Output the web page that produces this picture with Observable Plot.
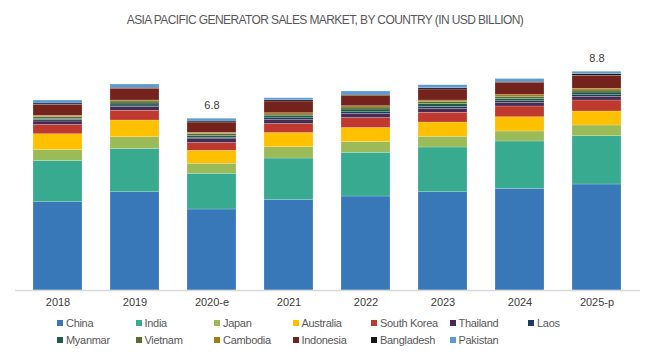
<!DOCTYPE html>
<html>
<head>
<meta charset="utf-8">
<script src="https://cdn.jsdelivr.net/npm/d3@7"></script>
<script src="https://cdn.jsdelivr.net/npm/@observablehq/plot@0.6"></script>
<style>
  html, body { margin: 0; padding: 0; background: #fff; }
  body { width: 650px; height: 357px; overflow: hidden; font-family: "Liberation Sans", Arial, sans-serif; }
  #title { height: 40px; line-height: 40px; text-align: center; font-size: 12px; color: #595959; letter-spacing: -0.6px; }
  #legend { display: grid; grid-template-columns: repeat(7, 78.5px); grid-auto-rows: 17px; padding-left: 57px; margin-top: 2px; font-size: 11px; color: #595959; letter-spacing: -0.3px; }
  #legend .item { display: flex; align-items: center; white-space: nowrap; }
  #legend .sw { width: 6px; height: 6px; margin-right: 3px; flex: none; }
</style>
</head>
<body>
<div id="title">ASIA PACIFIC GENERATOR SALES MARKET, BY COUNTRY (IN USD BILLION)</div>
<div id="chart"></div>
<div id="legend"></div>
<script>
const years = ["2018", "2019", "2020-e", "2021", "2022", "2023", "2024", "2025-p"];
const countries = ["China", "India", "Japan", "Australia", "South Korea", "Thailand", "Laos",
  "Myanmar", "Vietnam", "Cambodia", "Indonesia", "Bangladesh", "Pakistan"];
const colors = ["#3878b8", "#38aa90", "#9bbb59", "#ffc000", "#c0392f", "#4a2a52", "#1f3a5c",
  "#1e5c44", "#5c6c2c", "#a57a12", "#74221c", "#161616", "#5b9bd5"];

const china      = [3.53, 3.93, 3.24, 3.63, 3.76, 3.93, 4.07, 4.24];
const india      = [1.65, 1.73, 1.43, 1.65, 1.75, 1.79, 1.89, 1.93];
const japan      = [0.44, 0.47, 0.40, 0.45, 0.43, 0.43, 0.40, 0.43];
const australia  = [0.63, 0.67, 0.52, 0.57, 0.56, 0.57, 0.57, 0.56];
const southKorea = [0.37, 0.39, 0.31, 0.36, 0.40, 0.39, 0.43, 0.44];
const thailand   = [0.14, 0.15, 0.15, 0.16, 0.16, 0.16, 0.15, 0.15];
const laos       = [0.06, 0.06, 0.06, 0.07, 0.07, 0.07, 0.06, 0.06];
const myanmar    = [0.05, 0.08, 0.08, 0.08, 0.11, 0.12, 0.09, 0.11];
const vietnam    = [0.07, 0.08, 0.07, 0.07, 0.08, 0.09, 0.09, 0.08];
const cambodia   = [0.05, 0.04, 0.05, 0.05, 0.05, 0.05, 0.07, 0.07];
const indonesia  = [0.44, 0.47, 0.41, 0.47, 0.41, 0.44, 0.48, 0.52];
const bangladesh = [0.05, 0.04, 0.04, 0.05, 0.05, 0.05, 0.05, 0.07];
const pakistan   = [0.12, 0.13, 0.11, 0.08, 0.13, 0.12, 0.11, 0.09];

const series = [china, india, japan, australia, southKorea, thailand, laos,
  myanmar, vietnam, cambodia, indonesia, bangladesh, pakistan];

const totalLabels = [
  {year: "2020-e", label: "6.8"},
  {year: "2025-p", label: "8.8"}
];

const data = [];
years.forEach((y, i) => {
  countries.forEach((c, j) => data.push({year: y, country: c, value: series[j][i]}));
});
const totals = totalLabels.map(d => ({
  ...d,
  total: d3.sum(series, s => s[years.indexOf(d.year)])
}));

const chart = Plot.plot({
  width: 650,
  height: 272,
  marginTop: 10,
  marginBottom: 22,
  marginLeft: 15,
  marginRight: 10,
  style: {fontFamily: '"Liberation Sans", Arial, sans-serif', fontSize: "11px", color: "#404040"},
  x: {domain: years, paddingInner: 0.36, paddingOuter: 0.193, label: null, tickSize: 0, tickPadding: 8},
  y: {domain: [0, 9.6], axis: null},
  color: {domain: countries, range: colors},
  marks: [
    Plot.barY(data, {x: "year", y: "value", fill: "country", order: countries,
      stroke: "#ffffff", strokeWidth: 0.5, strokeOpacity: 0.4}),
    Plot.ruleY([0], {stroke: "#d9d9d9", strokeWidth: 1.5}),
    Plot.text(totals, {x: "year", y: "total", text: "label", dy: -13, fill: "#404040", fontSize: 11})
  ]
});
document.getElementById("chart").appendChild(chart);

const legend = document.getElementById("legend");
countries.forEach((c, j) => {
  const item = document.createElement("div");
  item.className = "item";
  const sw = document.createElement("span");
  sw.className = "sw";
  sw.style.background = colors[j];
  item.appendChild(sw);
  item.appendChild(document.createTextNode(c));
  legend.appendChild(item);
});
</script>
</body>
</html>
